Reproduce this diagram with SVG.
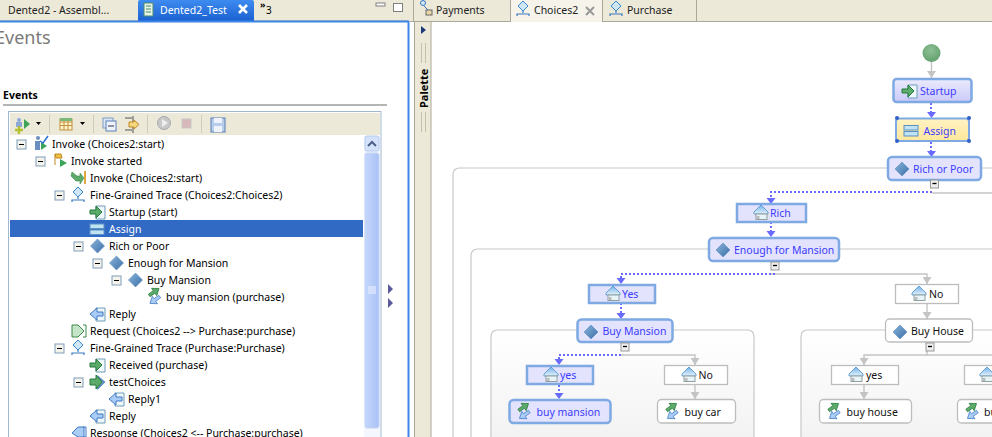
<svg xmlns="http://www.w3.org/2000/svg" xmlns:xlink="http://www.w3.org/1999/xlink" width="992" height="437" viewBox="0 0 992 437">
<style>
text{font-family:"Noto Sans","Liberation Sans",sans-serif;font-size:10.5px;fill:#000;white-space:pre}
.t{fill:#222}
.b{fill:#3c3cff;font-size:10.5px}
.k{fill:#111;font-size:10.5px}
.sel{fill:#e3e3fd;stroke:#7ea9e2;stroke-width:2.5}
.plain{fill:#fff;stroke:#bdbdbd;stroke-width:1.3}
.cont{fill:url(#cg);stroke:#c8c8c8;stroke-width:1.2}
.e{fill:none;stroke:#c4c4c4;stroke-width:1.4}
.d{fill:none;stroke:#6a6aff;stroke-width:2;stroke-dasharray:2 2}
</style>
<defs>
<linearGradient id="cg" x1="0" y1="0" x2="0" y2="1"><stop offset="0" stop-color="#fff"/><stop offset="1" stop-color="#eee"/></linearGradient>
<linearGradient id="gs" x1="0" y1="0" x2="0" y2="1"><stop offset="0" stop-color="#ecebfe"/><stop offset="1" stop-color="#c9c9f8"/></linearGradient>
<linearGradient id="gy" x1="0" y1="0" x2="0" y2="1"><stop offset="0" stop-color="#fff3c4"/><stop offset="1" stop-color="#ffe79a"/></linearGradient>
<linearGradient id="gt" x1="0" y1="0" x2="0" y2="1"><stop offset="0" stop-color="#3d8bf0"/><stop offset="1" stop-color="#1a5fd0"/></linearGradient>
<linearGradient id="gb" x1="0" y1="0" x2="1" y2="0"><stop offset="0" stop-color="#c4d6fb"/><stop offset="1" stop-color="#a9c2f5"/></linearGradient>
<radialGradient id="gc" cx=".45" cy=".35" r=".7"><stop offset="0" stop-color="#8fc096"/><stop offset="1" stop-color="#5f9e6b"/></radialGradient>
<linearGradient id="gd" x1="0" y1="0" x2="1" y2="1"><stop offset="0" stop-color="#8ab6dd"/><stop offset="1" stop-color="#3a6ea5"/></linearGradient>
<linearGradient id="gh" x1="0" y1="0" x2="0" y2="1"><stop offset="0" stop-color="#6fb0e8"/><stop offset="1" stop-color="#e6f3fb"/></linearGradient>
<marker id="ag" markerWidth="9" markerHeight="7" refX="4.500" refY="7" orient="0" markerUnits="userSpaceOnUse" viewBox="0 0 9 7"><path d="M0 0H9L4.500 7Z" fill="#c4c4c4"/></marker>
<g id="mn"><rect x="-4" y="-4" width="9" height="9" fill="#f4f3ec" stroke="#7f9db9"/><path d="M-2 .5H3" stroke="#000"/></g>
<g id="col"><rect x="-4" y="-4" width="8" height="8" fill="#eee" stroke="#999"/><path d="M-2 -.5H2" stroke="#000" stroke-width="1.300"/></g>
<g id="dia"><path d="M0 -7L7 0L0 7L-7 0Z" fill="url(#gd)" stroke="#5b8cc0" stroke-width=".6"/></g>
<g id="start"><path d="M-1 -6H8V7H-1Z" fill="#eef7fa" stroke="#6f9db8"/><path d="M-7 -2H-1V-6L5 0L-1 6V2H-7Z" fill="#5cab6a" stroke="#257a3c"/></g>
<g id="reply"><path d="M-1 -6H8V7H-1Z" fill="#eef7fa" stroke="#6f9db8"/><path d="M6 -2H0V-6L-7 0L0 6V2H6Z" fill="#a9cdf5" stroke="#3f78c4"/></g>
<g id="assign"><rect x="-7" y="-5" width="14" height="4.500" fill="#bfe3f0" stroke="#5c8fc4"/><rect x="-7" y="1" width="14" height="4.500" fill="#bfe3f0" stroke="#5c8fc4"/></g>
<g id="house"><path d="M0 -8L7 -1V1H-7V-1Z" fill="url(#gh)" stroke="#4a8fc8" stroke-width=".8"/><rect x="-5" y="1" width="11" height="5.500" fill="#e8f4f8" stroke="#8fa0a0"/><rect x="-4.500" y="3" width="3" height="3" fill="#bbb"/></g>
<g id="trade"><g transform="rotate(-35)"><path d="M-4 -5H2V-8L8 -3.500L2 1V-2H-4Z" fill="#5cab6a" stroke="#257a3c" stroke-width=".7"/><path d="M4 2H-2V-1L-8 3.500L-2 8V5H4Z" fill="#a9cdf5" stroke="#3f78c4" stroke-width=".7"/></g></g>
<g id="trace"><path d="M0 -8L5 -3L0 2L-5 -3Z" fill="#cfe6f7" stroke="#3a8ad0"/><path d="M0 2V4M-6 7V5H6V7" fill="none" stroke="#3a7ac0" stroke-width="1.200"/></g>
</defs>

<rect width="992" height="437" fill="#fff"/>

<g id="left-panel">
<rect x="0" y="0" width="410" height="21" fill="#ece9d8"/>
<path d="M0 21H138" stroke="#aca899"/>
<text x="8" y="14" class="t">Dented2 - Assembl...</text>
<path d="M138 22V2Q138 0 140 0H252Q254 0 254 2V22Z" fill="url(#gt)"/>
<rect x="144" y="3" width="9" height="13" fill="#e6f2e2" stroke="#4c8a70"/>
<path d="M146 6H151M146 9H151M146 12H151" stroke="#4c8a70"/>
<text x="160" y="14" style="fill:#fff">Dented2_Test</text>
<path d="M239 5L247 13M247 5L239 13" stroke="#fff" stroke-width="2.600"/>
<text x="260" y="8" style="font-size:9px;font-weight:bold">»</text>
<text x="266" y="14" style="font-size:10px">3</text>
<rect x="376" y="3" width="9" height="3" fill="#fff" stroke="#7f7f7f"/>
<rect x="393.500" y="3.500" width="9" height="8" fill="#fff" stroke="#7f7f7f"/>
<path d="M254 21H408" stroke="#aca899"/>
<rect x="0" y="22" width="407" height="415" fill="#fff"/>
<path d="M0 21.500H409M408.500 21V437" stroke="#3c86e8" stroke-width="2"/>
<text x="-5" y="44" style="font-size:18px;fill:#7a7a7a">Events</text>
<text x="3" y="99" style="font-weight:bold;font-size:10.500px">Events</text>
<rect x="3" y="104" width="384" height="2" fill="#b5b5b5"/>
<rect x="8.500" y="111.500" width="372.500" height="326" fill="#fff" stroke="#a0b8cf"/>
<rect x="10" y="113" width="370" height="22" fill="#ece9d8"/>
<g id="toolbar">
<circle cx="19" cy="120" r="2" fill="#8ca8d8"/><rect x="16" y="122" width="6" height="5" fill="#8ca8d8"/><path d="M24 119L30 124L24 129Z" fill="#3da45a"/><path d="M15 130H23M19 126V134" stroke="#b5c030" stroke-width="2.400"/><path d="M36 122H41L38.500 125Z" fill="#000"/>
<path d="M49.500 115V133M93.500 115V133M147.500 115V133M201.500 115V133" stroke="#cfccb8"/>
<rect x="60" y="119" width="12" height="11" fill="#fff5c8" stroke="#c09040"/><path d="M60 122H72M60 125.500H72M64 119V130M68 119V130" stroke="#c09040"/><rect x="60" y="118" width="12" height="3" fill="#7cb87c"/><path d="M80 122H85L82.500 125Z" fill="#000"/>
<rect x="103" y="118" width="10" height="10" fill="#dde6f5" stroke="#7a9bc4"/><rect x="106" y="121" width="10" height="10" fill="#eef3fb" stroke="#5a80b8"/><path d="M108 126H114" stroke="#335"/>
<path d="M125 118H132M125 130H132M133 116V133" stroke="#555"/><path d="M129 122H134V120L139 124.500L134 129V127H129Z" fill="#f5d880" stroke="#c08820"/>
<circle cx="164" cy="123" r="6.500" fill="#c8c8c8" stroke="#a8a8a8"/><path d="M162 119L168 123L162 127Z" fill="#eee"/>
<rect x="182" y="119" width="9" height="9" fill="#d8b8b8" stroke="#c8c8c8"/>
<rect x="211" y="118" width="14" height="14" fill="#b8cdea" stroke="#5a7fb5"/><rect x="214" y="118" width="8" height="5" fill="#eef3fb"/><rect x="214" y="126" width="8" height="6" fill="#eef3fb"/>
</g>
<rect x="10" y="220" width="353" height="17" fill="#316ac5"/>
<g id="scrollbar">
<rect x="364" y="136" width="16" height="301" fill="#f4f7fd"/>
<rect x="365" y="136" width="14" height="15" rx="2" fill="#d5e2fb" stroke="#b5c8ee"/>
<path d="M368 146L372 142L376 146" fill="none" stroke="#4d6185" stroke-width="2"/>
<rect x="365" y="153" width="14" height="275" rx="2" fill="url(#gb)" stroke="#c5d5f5"/>
<path d="M368 287H376M368 289H376M368 291H376M368 293H376" stroke="#eef3ff"/>
</g>
<path d="M388 284L393 289L388 294ZM388 298L393 303L388 308Z" fill="#5a5a9a"/>
<g id="tree">
<use href="#mn" x="21" y="144"/><circle cx="38" cy="138" r="2" fill="#6a8fc0"/><rect x="35" y="141" width="5" height="9" fill="#6a8fc0"/><path d="M41 142L47 146L41 150Z" fill="#3da45a"/><path d="M40 141L43 143L48 136" fill="none" stroke="#2a6fd0" stroke-width="1.500"/>
<text x="52" y="148">Invoke (Choices2:start)</text>
<use href="#mn" x="40" y="161"/><path d="M55 154H61L62 158H56ZM55 154V165" fill="#f0c040" stroke="#c08820"/><path d="M60 159L67 163L60 167Z" fill="#3da45a"/>
<text x="71" y="165">Invoke started</text>
<path d="M72 172L77 176H80V173L84 178L80 184V181H76L71 176Z" fill="#5cab6a" stroke="#3a8a4a" stroke-width=".6"/><rect x="84" y="171" width="2" height="13" fill="#e0a840"/>
<text x="90" y="182">Invoke (Choices2:start)</text>
<use href="#mn" x="59" y="195"/><use href="#trace" x="78" y="195"/>
<text x="90" y="199">Fine-Grained Trace (Choices2:Choices2)</text>
<use href="#start" x="97" y="212"/>
<text x="109" y="216">Startup (start)</text>
<use href="#assign" x="97" y="229"/>
<text x="109" y="233" style="fill:#fff">Assign</text>
<use href="#mn" x="78" y="246"/><use href="#dia" x="97.500" y="246"/>
<text x="109" y="250">Rich or Poor</text>
<use href="#mn" x="97" y="263"/><use href="#dia" x="116.500" y="263"/>
<text x="128" y="267">Enough for Mansion</text>
<use href="#mn" x="116" y="280"/><use href="#dia" x="135.500" y="280"/>
<text x="147" y="284">Buy Mansion</text>
<use href="#trade" x="154.500" y="296"/>
<text x="166" y="301">buy mansion (purchase)</text>
<use href="#reply" x="97" y="314"/>
<text x="109" y="318">Reply</text>
<path d="M72 325H78L84 331L78 337H72Z" fill="#c5e4c8" stroke="#3a8a4a"/><path d="M83 325H86V337H83" fill="none" stroke="#3a8a4a"/>
<text x="90" y="335">Request (Choices2 --&gt; Purchase:purchase)</text>
<use href="#mn" x="59" y="348"/><use href="#trace" x="78" y="348"/>
<text x="90" y="352">Fine-Grained Trace (Purchase:Purchase)</text>
<use href="#start" x="97" y="365"/>
<text x="109" y="369">Received (purchase)</text>
<use href="#mn" x="78" y="382"/><path d="M97 376L104 382L97 389" fill="none" stroke="#5b8cc0" stroke-width="2"/><path d="M90 379H96V375L102 382L96 389V385H90Z" fill="#5cab6a" stroke="#257a3c"/>
<text x="109" y="386">testChoices</text>
<use href="#reply" x="116" y="399"/>
<text x="128" y="403">Reply1</text>
<use href="#reply" x="97" y="416"/>
<text x="109" y="420">Reply</text>
<path d="M72 433L78 427H84V437H78Z" fill="#a9cdf5" stroke="#3f78c4"/><path d="M83 427H86V437H83" fill="none" stroke="#3f78c4"/>
<text x="90" y="437">Response (Choices2 &lt;-- Purchase:purchase)</text>
</g>
</g>

<g id="right-panel">
<rect x="410" y="0" width="582" height="22" fill="#ece9d8"/>
<path d="M410 21.500H992" stroke="#aca899"/>
<path d="M510.500 0V21M602.500 0V21M696.500 0V21M413.500 0V21" stroke="#aca899"/>
<rect x="511" y="0" width="91" height="22" fill="#f5f3ea"/>
<circle cx="423" cy="3" r="2.500" fill="#cfe6f7" stroke="#3a7ac0"/><rect x="426" y="10" width="6" height="5" fill="#e8d8a8" stroke="#666"/><path d="M424 6L428 10" stroke="#3a7ac0"/>
<text x="436" y="14" class="t">Payments</text>
<use href="#trace" x="523" y="9"/>
<text x="534" y="14" class="t">Choices2</text>
<path d="M586 7L594 15M594 7L586 15" stroke="#999" stroke-width="2"/>
<use href="#trace" x="616" y="9"/>
<text x="627" y="14" class="t">Purchase</text>
<rect x="414" y="22" width="17" height="415" fill="#ece9d8"/>
<path d="M414.500 22V437M431 22V437" stroke="#aca899"/>
<path d="M421 26L426 30L421 34Z" fill="#1d3a78"/>
<path d="M421.500 43V63M425.500 43V63M421.500 112V132M425.500 112V132" stroke="#c4c0ac"/>
<text transform="translate(428 108) rotate(-90)" style="font-weight:bold;font-size:11px">Palette</text>

<g id="containers">
<rect x="453" y="168" width="640" height="400" rx="6" fill="#fff" stroke="#c8c8c8" stroke-width="1.200"/>
<rect x="471" y="249" width="620" height="300" rx="6" fill="#fff" stroke="#c8c8c8" stroke-width="1.200"/>
<rect x="491" y="330" width="263" height="150" rx="6" class="cont"/>
<rect x="801" y="330" width="263" height="150" rx="6" class="cont"/>
</g>

<g id="connectors">
<path class="e" d="M931.500 62V78" marker-end="url(#ag)"/>
<path class="e" d="M932 193H992"/>
<path class="e" d="M771 274H927V284" marker-end="url(#ag)"/>
<path class="e" d="M927 303V319" marker-end="url(#ag)"/>
<path class="e" d="M621 355H695V365" marker-end="url(#ag)"/>
<path class="e" d="M695 385V399" marker-end="url(#ag)"/>
<path class="e" d="M927 342V355H864V365" marker-end="url(#ag)"/>
<path class="e" d="M927 355H992"/>
<path class="e" d="M864 385V399" marker-end="url(#ag)"/>
<path class="d" d="M931 103V112"/><path class="d" d="M931 142V151"/>
<path class="d" d="M932 192H771V198"/>
<path class="d" d="M771 222V231"/>
<path class="d" d="M775 274H621V279"/>
<path class="d" d="M621 303V313"/>
<path class="d" d="M621 355H559V360"/>
<path class="d" d="M559 385V393"/>
<path d="M927 112H936L931.500 118ZM927 151H936L931.500 157ZM766.500 198H775.500L771 204ZM766.500 231H775.500L771 237ZM616.500 278H625.500L621 284ZM616.500 313H625.500L621 319ZM554.500 359H563.500L559 365ZM554.500 393H563.500L559 399Z" fill="#6a6aff"/>
</g>

<g id="start-node"><circle cx="931.500" cy="53" r="9" fill="url(#gc)"/></g>
<g id="node-startup"><rect x="893.500" y="79" width="78" height="23" rx="3" class="sel" style="fill:url(#gs)"/><use href="#start" x="909" y="91"/><text x="920" y="95" class="b">Startup</text></g>
<g id="node-assign"><rect x="896" y="118.500" width="73" height="22.500" rx="3" fill="url(#gy)" stroke="#7ea9e2" stroke-width="2"/><use href="#assign" x="911" y="130.500"/><text x="923.500" y="134.500" class="b">Assign</text>
<g fill="#3060c8"><circle cx="897" cy="118" r="2"/><circle cx="969" cy="118" r="2"/><circle cx="897" cy="141" r="2"/><circle cx="969" cy="141" r="2"/></g></g>
<g id="node-rich-or-poor"><rect x="888" y="157" width="93" height="23" rx="4" class="sel"/><use href="#dia" x="902" y="169"/><text x="913" y="173" class="b">Rich or Poor</text><use href="#col" x="934.500" y="184"/></g>
<g id="node-rich"><rect x="737" y="204" width="69" height="18" class="sel"/><use href="#house" x="761" y="213"/><text x="770" y="217" class="b">Rich</text></g>
<g id="node-enough"><rect x="709" y="238" width="130" height="23" rx="4" class="sel"/><use href="#dia" x="723" y="250"/><text x="734" y="254" class="b">Enough for Mansion</text><use href="#col" x="775" y="266"/></g>
<g id="node-yes-top"><rect x="589" y="285" width="66" height="18" class="sel"/><use href="#house" x="613" y="294"/><text x="622" y="298" class="b">Yes</text></g>
<g id="node-no-top"><rect x="895.500" y="284.500" width="63" height="19" class="plain"/><use href="#house" x="919" y="294"/><text x="929" y="298" class="k">No</text></g>
<g id="node-buy-mansion-gw"><rect x="577.500" y="319.500" width="95" height="22.500" rx="4" class="sel"/><use href="#dia" x="591" y="332"/><text x="602.500" y="335" class="b">Buy Mansion</text><use href="#col" x="625" y="347"/></g>
<g id="node-buy-house-gw"><rect x="885.500" y="319" width="87" height="23" rx="4" class="plain"/><use href="#dia" x="900" y="332"/><text x="911" y="335" class="k">Buy House</text><use href="#col" x="930" y="347"/></g>
<g id="node-yes-a"><rect x="527" y="366" width="66" height="18" class="sel"/><use href="#house" x="551" y="375"/><text x="560" y="379" class="b">yes</text></g>
<g id="node-no-a"><rect x="664.500" y="365.500" width="63" height="19" class="plain"/><use href="#house" x="689" y="375"/><text x="698.500" y="379" class="k">No</text></g>
<g id="node-yes-b"><rect x="831.500" y="365.500" width="67" height="19" class="plain"/><use href="#house" x="856" y="375"/><text x="866" y="379" class="k">yes</text></g>
<g id="node-no-b"><rect x="964.500" y="365.500" width="67" height="19" class="plain"/><use href="#house" x="987" y="375"/></g>
<g id="node-buy-mansion"><rect x="509.500" y="400" width="101" height="23" rx="4" class="sel"/><use href="#trade" x="524" y="411"/><text x="536.500" y="416" class="b">buy mansion</text></g>
<g id="node-buy-car"><rect x="657.500" y="399.500" width="78" height="23.500" rx="4" class="plain"/><use href="#trade" x="672" y="411"/><text x="684.500" y="416" class="k">buy car</text></g>
<g id="node-buy-house"><rect x="819.500" y="399.500" width="92" height="23.500" rx="4" class="plain"/><use href="#trade" x="834" y="411"/><text x="846.500" y="416" class="k">buy house</text></g>
<g id="node-buy-right"><rect x="957.500" y="399.500" width="80" height="23.500" rx="4" class="plain"/><use href="#trade" x="972" y="411"/><text x="984" y="416" class="k">buy</text></g>
</g>
</svg>
